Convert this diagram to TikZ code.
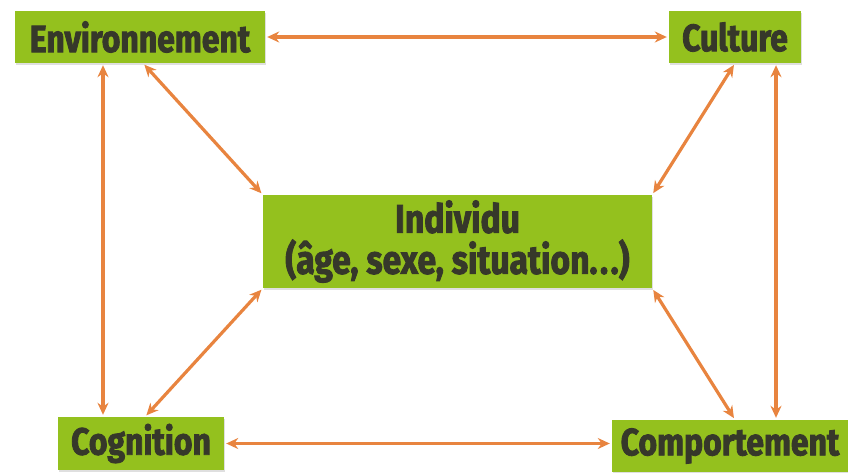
\documentclass[tikz,border=0pt]{standalone}
\usepackage{fontspec}
\setmainfont{Fira Sans}[BoldFeatures={FakeStretch=0.84,FakeBold=2.2}]
\usetikzlibrary{arrows.meta,shadows}
\definecolor{boxgreen}{HTML}{94C11E}
\definecolor{txt}{HTML}{36382A}
\definecolor{arr}{HTML}{E8843F}
\begin{document}
\begin{tikzpicture}[x=1pt,y=-1pt,
  box/.style={rectangle,fill=boxgreen,inner sep=0pt,text=txt,font=\fontsize{38}{40}\selectfont\bfseries,
    drop shadow={shadow xshift=1pt,shadow yshift=-1.5pt,opacity=0.25}},
  link/.style={draw=arr,line width=3.2pt,{Stealth[length=12pt,width=11pt]}-{Stealth[length=12pt,width=11pt]},shorten <=2pt,shorten >=2pt}]
\useasboundingbox (0,0) rectangle (848,472);
\node[box,minimum width=250pt,minimum height=52pt] (env) at (140,37) {Environnement};
\node[box,minimum width=132pt,minimum height=52pt] (cul) at (735,37) {Culture};
\node[box,minimum width=389pt,minimum height=93pt,align=center,font=\fontsize{40}{41}\selectfont\bfseries] (ind) at (457.5,241.5) {Individu\\(âge, sexe, situation.\kern2.5pt.\kern2.5pt.)};
\node[box,minimum width=166pt,minimum height=53pt] (cog) at (141,443.5) {Cognition};
\node[box,minimum width=236pt,minimum height=52pt] (com) at (730,446) {Comportement};
\draw[link] (env.east) -- (cul.west);
\draw[link] ([xshift=-37pt]env.south) -- ([xshift=-38pt]cog.north);
\draw[link] ([xshift=3pt]env.south) -- (ind.north west);
\draw[link] (cul.south) -- (ind.north east);
\draw[link] ([xshift=41pt]cul.south) -- ([xshift=46pt]com.north);
\draw[link] (ind.south west) -- ([xshift=4pt]cog.north);
\draw[link] (ind.south east) -- ([xshift=5pt]com.north);
\draw[link] (cog.east) -- (cog.east -| com.west);
\end{tikzpicture}
\end{document}
